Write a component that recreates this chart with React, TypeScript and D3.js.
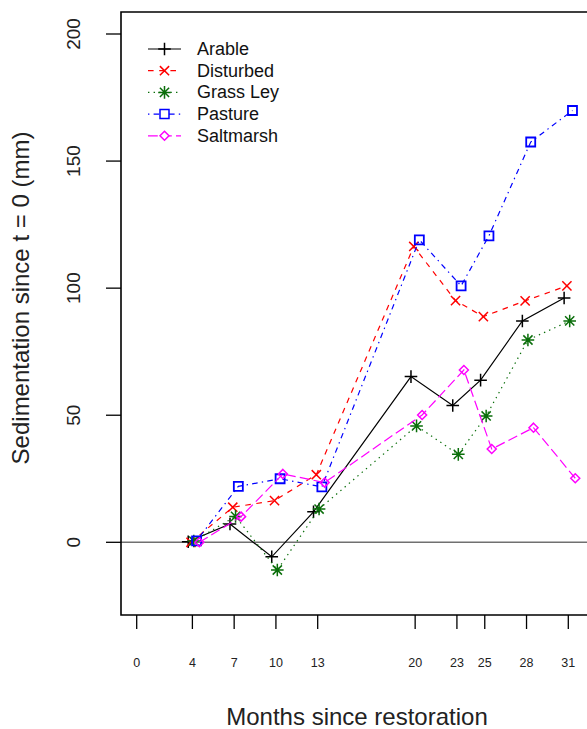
import React from 'react';
import * as d3 from 'd3';

const months = [4, 7, 10, 13, 20, 23, 25, 28, 31];
const xTicks = [0, 4, 7, 10, 13, 20, 23, 25, 28, 31];
const yTicks = [0, 50, 100, 150, 200];
const seriesNames = ['Arable', 'Disturbed', 'Grass Ley', 'Pasture', 'Saltmarsh'];
const arable = [0.2, 7.2, -5.7, 12.0, 65.2, 53.8, 63.8, 87.1, 96.1];
const disturbed = [0, 13.8, 16.4, 26.6, 116.4, 95.1, 88.8, 95.0, 100.9];
const grassLey = [0.5, 10.2, -10.9, 13.1, 45.8, 34.6, 49.7, 79.6, 87.1];
const pasture = [0.6, 22.0, 25.0, 21.8, 119.0, 100.9, 120.6, 157.5, 169.9];
const saltmarsh = [0, 10.1, 26.9, 23.5, 50.1, 67.8, 36.7, 45.1, 25.2];
const offsets = [-0.3, -0.1, 0.1, 0.3, 0.5];
const colors = ['#000000', '#ff0000', '#0a6e0a', '#0000ff', '#ff00ff'];
const dashes = ['none', '5.6,5.6', '1.4,4.2', '1.4,4.2,5.6,4.2', '9.8,4.2'];
const symbols = ['plus', 'cross', 'star', 'square', 'diamond'];
const allValues = [arable, disturbed, grassLey, pasture, saltmarsh];

const W = 587;
const H = 729;
const FONT = '"Liberation Sans", Arial, Helvetica, sans-serif';

function symbolPath(kind: string, cx: number, cy: number): string {
  const p = d3.path();
  const s = 6.3;
  const c = 4.6;
  if (kind === 'plus' || kind === 'star') {
    p.moveTo(cx - s, cy); p.lineTo(cx + s, cy);
    p.moveTo(cx, cy - s); p.lineTo(cx, cy + s);
  }
  if (kind === 'cross' || kind === 'star') {
    p.moveTo(cx - c, cy - c); p.lineTo(cx + c, cy + c);
    p.moveTo(cx - c, cy + c); p.lineTo(cx + c, cy - c);
  }
  if (kind === 'square') {
    p.rect(cx - 4.5, cy - 4.5, 9, 9);
  }
  if (kind === 'diamond') {
    const d = 4.5;
    p.moveTo(cx, cy - d); p.lineTo(cx + d, cy); p.lineTo(cx, cy + d); p.lineTo(cx - d, cy); p.closePath();
  }
  return p.toString();
}

export default function App() {
  const x = d3.scaleLinear().domain([0, 31]).range([136.7, 568.3]);
  const y = d3.scaleLinear().domain([0, 200]).range([542.3, 34]);
  const box = { left: 121, top: 12, bottom: 615, right: 640 };

  const line = d3.line<[number, number]>().x(d => d[0]).y(d => d[1]);

  return (
    <div style={{ position: 'absolute', left: 0, top: 0 }}>
      <style>{'body{margin:0;}'}</style>
      <svg width={W} height={H} style={{ display: 'block', background: '#fff' }} fontFamily={FONT}>
        <rect x={0} y={0} width={W} height={H} fill="#fff" />
        {/* zero line */}
        <line x1={box.left} x2={box.right} y1={y(0)} y2={y(0)} stroke="#707070" strokeWidth={1.6} />
        {/* series */}
        {allValues.map((vals, i) => {
          const pts: [number, number][] = vals.map((v, j) => [x(months[j] + offsets[i]), y(v)]);
          return (
            <g key={seriesNames[i]}>
              <path d={line(pts) || ''} fill="none" stroke={colors[i]} strokeWidth={1.2}
                strokeDasharray={dashes[i]} />
              {pts.map((pt, j) => (
                <path key={j} d={symbolPath(symbols[i], pt[0], pt[1])} fill="none"
                  stroke={colors[i]} strokeWidth={symbols[i] === 'square' ? 1.8 : 1.5} />
              ))}
            </g>
          );
        })}
        {/* box */}
        <path d={`M${box.right},${box.top}H${box.left}V${box.bottom}H${box.right}`} fill="none" stroke="#000" strokeWidth={1.6} />
        {/* y axis */}
        {yTicks.map(t => (
          <g key={t}>
            <line x1={106} x2={box.left} y1={y(t)} y2={y(t)} stroke="#000" strokeWidth={1.3} />
            <text x={0} y={0} transform={`translate(${80},${y(t)}) rotate(-90)`} textAnchor="middle"
              fontSize={19} fill="#222">{t}</text>
          </g>
        ))}
        {/* x axis */}
        {xTicks.map(t => (
          <g key={t}>
            <line x1={x(t)} x2={x(t)} y1={box.bottom} y2={629} stroke="#000" strokeWidth={1.3} />
            <text x={x(t)} y={666.5} textAnchor="middle" fontSize={12.5} fill="#222">{t}</text>
          </g>
        ))}
        <text x={357} y={725} textAnchor="middle" fontSize={24} fill="#222">Months since restoration</text>
        <text transform={`translate(${29},${298}) rotate(-90)`} textAnchor="middle" fontSize={24} fill="#222">
          Sedimentation since t = 0 (mm)
        </text>
        {/* legend */}
        {seriesNames.map((n, i) => {
          const ly = 49 + i * 21.7;
          return (
            <g key={n}>
              <line x1={148} x2={181} y1={ly} y2={ly} stroke={colors[i]} strokeWidth={1.2} strokeDasharray={dashes[i]} />
              <path d={symbolPath(symbols[i], 164.5, ly)} fill={symbols[i] === 'diamond' || symbols[i] === 'square' ? '#fff' : 'none'}
                stroke={colors[i]} strokeWidth={1.5} />
              <text x={197} y={ly} dominantBaseline="central" fontSize={18} fill="#111">{n}</text>
            </g>
          );
        })}
      </svg>
    </div>
  );
}
